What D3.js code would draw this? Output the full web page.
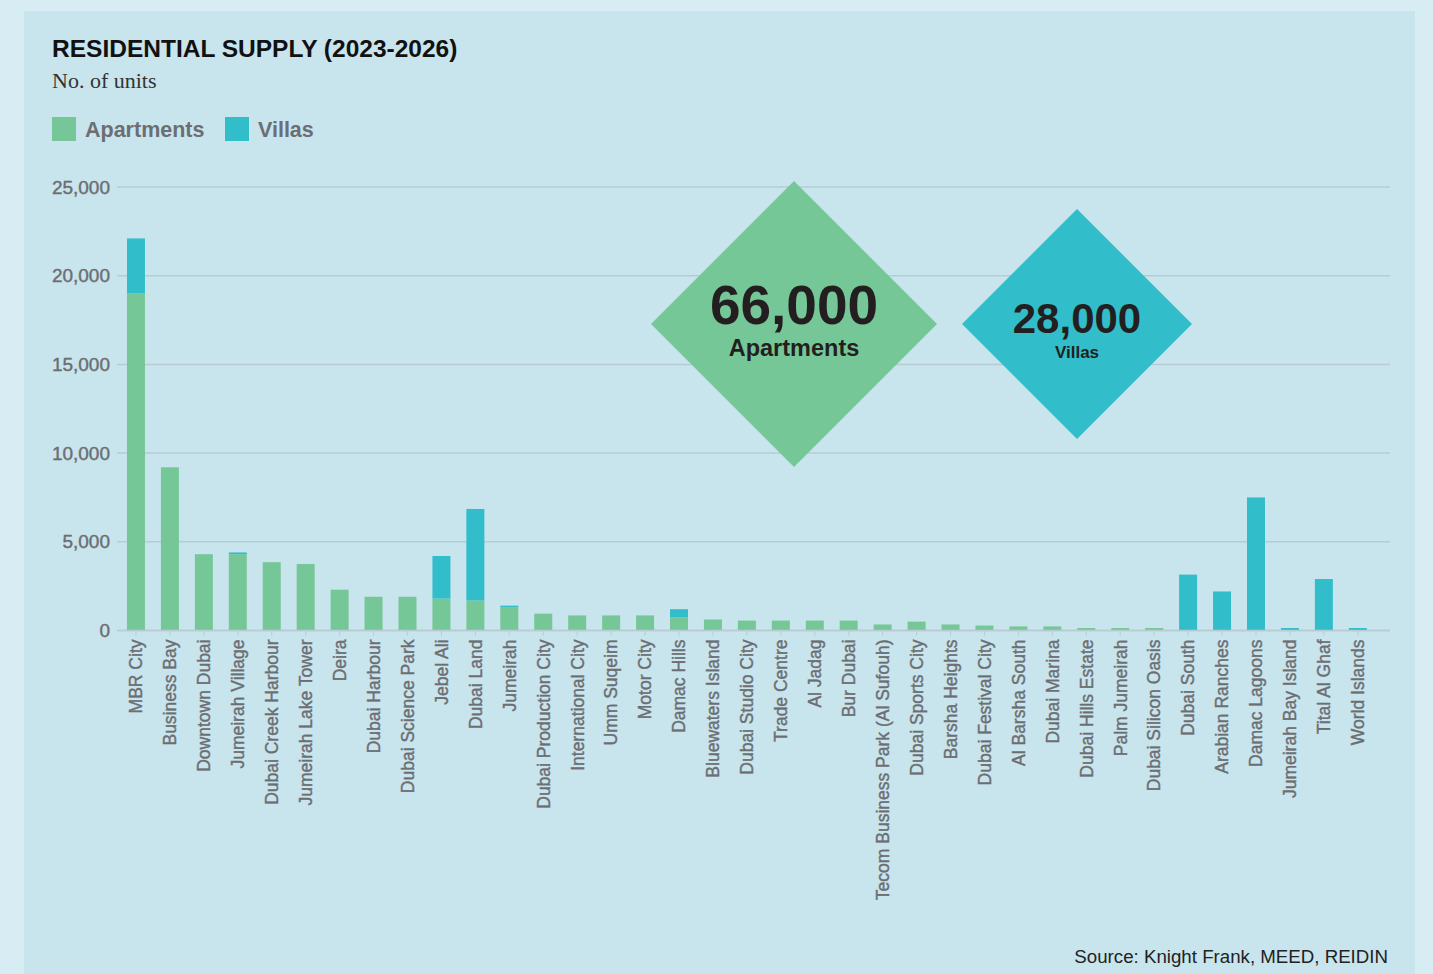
<!DOCTYPE html>
<html>
<head>
<meta charset="utf-8">
<script src="https://cdn.jsdelivr.net/npm/d3@7"></script>
<style>
  body { margin: 0; background: #d8ecf3; }
  svg { display: block; font-family: "Liberation Sans", Arial, sans-serif; }
</style>
</head>
<body>
<div id="chart"></div>
<script>
// data
var areas = ["MBR City", "Business Bay", "Downtown Dubai", "Jumeirah Village", "Dubai Creek Harbour",
  "Jumeirah Lake Tower", "Deira", "Dubai Harbour", "Dubai Science Park", "Jebel Ali", "Dubai Land",
  "Jumeirah", "Dubai Production City", "International City", "Umm Suqeim", "Motor City", "Damac Hills",
  "Bluewaters Island", "Dubai Studio City", "Trade Centre", "Al Jadag", "Bur Dubai",
  "Tecom Business Park (Al Sufouh)", "Dubai Sports City", "Barsha Heights", "Dubai Festival City",
  "Al Barsha South", "Dubai Marina", "Dubai Hills Estate", "Palm Jumeirah", "Dubai Silicon Oasis",
  "Dubai South", "Arabian Ranches", "Damac Lagoons", "Jumeirah Bay Island", "Tital Al Ghaf", "World Islands"];
var apartments = [19000, 9200, 4300, 4300, 3850, 3750, 2300, 1900, 1900, 1800, 1700,
  1300, 950, 850, 850, 850, 750, 620, 560, 560, 560, 560, 340, 500, 340, 280,
  230, 230, 140, 140, 140, 0, 0, 0, 0, 0, 0];
var villas = [3100, 0, 0, 100, 0, 0, 0, 0, 0, 2400, 5150,
  100, 0, 0, 0, 0, 450, 0, 0, 0, 0, 0, 0, 0, 0, 0,
  0, 0, 0, 0, 0, 3150, 2200, 7500, 140, 2900, 140];
var yTicks = [0, 5000, 10000, 15000, 20000, 25000];
var seriesNames = ["Apartments", "Villas"];
var colors = ["#76c797", "#31bdca"];
var totals = [{value: "66,000", label: "Apartments"}, {value: "28,000", label: "Villas"}];

var svgWidth = 1433;
var svgHeight = 974;
var labelGrey = "#6b6e72";

var svg = d3.select("#chart")
  .append("svg")
  .attr("width", svgWidth)
  .attr("height", svgHeight);

// panel
svg.append("rect")
  .attr("x", 24).attr("y", 11)
  .attr("width", 1391).attr("height", 970)
  .attr("fill", "#c8e4ec");

// title block
svg.append("text")
  .attr("x", 52).attr("y", 57)
  .attr("font-size", 24.5).attr("font-weight", "bold")
  .attr("fill", "#111")
  .text("RESIDENTIAL SUPPLY (2023-2026)");

svg.append("text")
  .attr("x", 52).attr("y", 88)
  .attr("font-family", "'Liberation Serif', 'DejaVu Serif', serif")
  .attr("font-size", 22)
  .attr("fill", "#333")
  .text("No. of units");

// legend
var legendX = [52, 225];
var legend = svg.selectAll(".legend").data(seriesNames).enter()
  .append("g")
  .attr("transform", (d, i) => `translate(${legendX[i]}, 117)`);
legend.append("rect")
  .attr("width", 24).attr("height", 24)
  .attr("fill", (d, i) => colors[i]);
legend.append("text")
  .attr("x", 33).attr("y", 20)
  .attr("font-size", 21.5).attr("font-weight", "bold")
  .attr("fill", labelGrey)
  .text(d => d);

// scales
var x = d3.scaleBand()
  .domain(areas)
  .range([119, 119 + areas.length * 33.94])
  .paddingInner(0.47)
  .paddingOuter(0.235);

var y = d3.scaleLinear()
  .domain([0, 25000])
  .range([630.5, 187]);

// gridlines
svg.append("g").selectAll("line").data(yTicks).enter()
  .append("line")
  .attr("x1", 117).attr("x2", 1390)
  .attr("y1", d => y(d)).attr("y2", d => y(d))
  .attr("stroke", "#b8cbd3").attr("stroke-width", 1.5);

// y labels
svg.append("g").selectAll("text").data(yTicks).enter()
  .append("text")
  .attr("x", 110)
  .attr("y", d => y(d))
  .attr("dy", "0.35em")
  .attr("text-anchor", "end")
  .attr("font-size", 19)
  .attr("fill", labelGrey)
  .attr("stroke", labelGrey).attr("stroke-width", 0.4)
  .text(d => d3.format(",")(d));

// stacked bars
var rows = areas.map((a, i) => ({area: a, Apartments: apartments[i], Villas: villas[i]}));
var stacked = d3.stack().keys(seriesNames)(rows);

svg.append("g").selectAll("g").data(stacked).enter()
  .append("g")
  .attr("fill", (d, i) => colors[i])
  .selectAll("rect").data(d => d).enter()
  .append("rect")
  .attr("x", d => x(d.data.area))
  .attr("width", x.bandwidth())
  .attr("y", d => y(d[1]))
  .attr("height", d => y(d[0]) - y(d[1]));

// x axis
var xAxis = svg.append("g")
  .attr("transform", `translate(0, ${y(0)})`)
  .call(d3.axisBottom(x).tickSize(5).tickPadding(8));
xAxis.select(".domain")
  .attr("d", "M117,0H1390")
  .attr("stroke", "#b8cbd3").attr("stroke-width", 1.5);
xAxis.selectAll(".tick line").attr("stroke", "#b8cbd3");
xAxis.selectAll(".tick text")
  .attr("font-family", "'Liberation Sans', Arial, sans-serif")
  .attr("font-size", 17.5)
  .attr("fill", labelGrey)
  .attr("stroke", labelGrey).attr("stroke-width", 0.4)
  .attr("transform", "rotate(-90)")
  .attr("text-anchor", "end")
  .attr("x", -9).attr("y", 0)
  .attr("dy", "0.36em");

// total diamonds
var diamonds = [{cx: 794, cy: 324, r: 143, big: 55, small: 23.5, dy1: 0, dy2: 32},
                {cx: 1077, cy: 324, r: 115, big: 42, small: 17, dy1: 9, dy2: 34}];
var dg = svg.selectAll(".diamond").data(diamonds).enter()
  .append("g")
  .attr("transform", d => `translate(${d.cx}, ${d.cy})`);
dg.append("path")
  .attr("d", d => `M0,${-d.r}L${d.r},0L0,${d.r}L${-d.r},0Z`)
  .attr("fill", (d, i) => colors[i]);
dg.append("text")
  .attr("text-anchor", "middle")
  .attr("y", d => d.dy1)
  .attr("font-size", d => d.big).attr("font-weight", "bold")
  .attr("fill", "#231f20")
  .text((d, i) => totals[i].value);
dg.append("text")
  .attr("text-anchor", "middle")
  .attr("y", d => d.dy2)
  .attr("font-size", d => d.small).attr("font-weight", "bold")
  .attr("fill", "#231f20")
  .text((d, i) => totals[i].label);

// source
svg.append("text")
  .attr("x", 1388).attr("y", 963)
  .attr("text-anchor", "end")
  .attr("font-size", 18.7)
  .attr("fill", "#222")
  .text("Source: Knight Frank, MEED, REIDIN");
</script>
</body>
</html>
